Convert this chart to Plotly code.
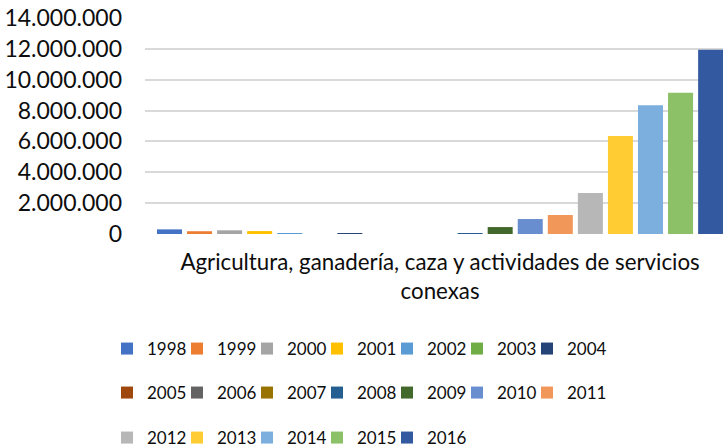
import plotly.graph_objects as go

categories = ["Agricultura, ganadería, caza y actividades de servicios conexas"]
category_labels = ["Agricultura, ganadería, caza y actividades de servicios<br>conexas"]
years = ["1998", "1999", "2000", "2001", "2002", "2003", "2004",
         "2005", "2006", "2007", "2008", "2009", "2010", "2011",
         "2012", "2013", "2014", "2015", "2016"]
values = [300000, 180000, 240000, 190000, 50000, 0, 50000,
          0, 0, 0, 50000, 450000, 970000, 1230000,
          2650000, 6350000, 8350000, 9150000, 11950000]
colors = ["#4472C4", "#ED7D31", "#A5A5A5", "#FFC000", "#5B9BD5", "#70AD47", "#264478",
          "#9E480E", "#636363", "#997300", "#255E91", "#43682B", "#698ED0", "#F1975A",
          "#B7B7B7", "#FFCD33", "#7CAFDD", "#8CC168", "#335AA1"]
y_ticks = [0, 2000000, 4000000, 6000000, 8000000, 10000000, 12000000, 14000000]
legend_rows = ["legend", "legend2", "legend3"]

FONT = "Lato"
TXT = "#0d0d0d"

fig = go.Figure()
for i, (yr, v, c) in enumerate(zip(years, values, colors)):
    fig.add_trace(go.Bar(
        x=categories, y=[v], name=yr, marker=dict(color=c, line=dict(width=0)),
        legend=legend_rows[i // 7],
    ))

# invisible legend-only spacer entries so the last label of each row is not clipped
for lg in legend_rows:
    fig.add_trace(go.Scatter(
        x=categories, y=[0], mode="markers", name=" ", legend=lg, showlegend=True,
        marker=dict(color="rgba(0,0,0,0)", size=1), hoverinfo="skip",
    ))

leg_common = dict(orientation="h", xanchor="left", yanchor="middle",
                  font=dict(family=FONT, size=17, color=TXT),
                  entrywidthmode="pixels", entrywidth=25,
                  bgcolor="rgba(0,0,0,0)", traceorder="normal")
LX = (107 - 145) / 578

fig.update_layout(
    width=723, height=448,
    margin=dict(l=145, r=0, t=18, b=214, autoexpand=False),
    paper_bgcolor="white", plot_bgcolor="white",
    separators=",.",
    barmode="group", bargap=0.032, bargroupgap=0.168,
    font=dict(family=FONT, color=TXT),
    xaxis=dict(
        type="category", range=[-0.5, 0.4795], automargin=False,
        tickmode="array", tickvals=categories, ticktext=category_labels,
        tickfont=dict(family=FONT, size=22.3, color=TXT),
        showgrid=False, showline=False, ticks="", zeroline=False,
        ticklabelstandoff=13,
    ),
    yaxis=dict(
        range=[0, 14000000], tickmode="array", tickvals=y_ticks, automargin=False,
        tickformat=",d", tickfont=dict(family=FONT, size=23, color=TXT),
        showgrid=True, gridcolor="#D9D9D9", gridwidth=1.7,
        zeroline=False, showline=False, ticks="", ticklabelstandoff=22,
    ),
    legend=dict(x=LX, y=(234 - 349) / 216, **leg_common),
    legend2=dict(x=LX, y=(234 - 393) / 216, **leg_common),
    legend3=dict(x=LX, y=(234 - 438) / 216, **leg_common),
    showlegend=True,
)

fig.write_html("out.html", config={"displayModeBar": False},
               post_script="document.body.style.margin='0px';")
